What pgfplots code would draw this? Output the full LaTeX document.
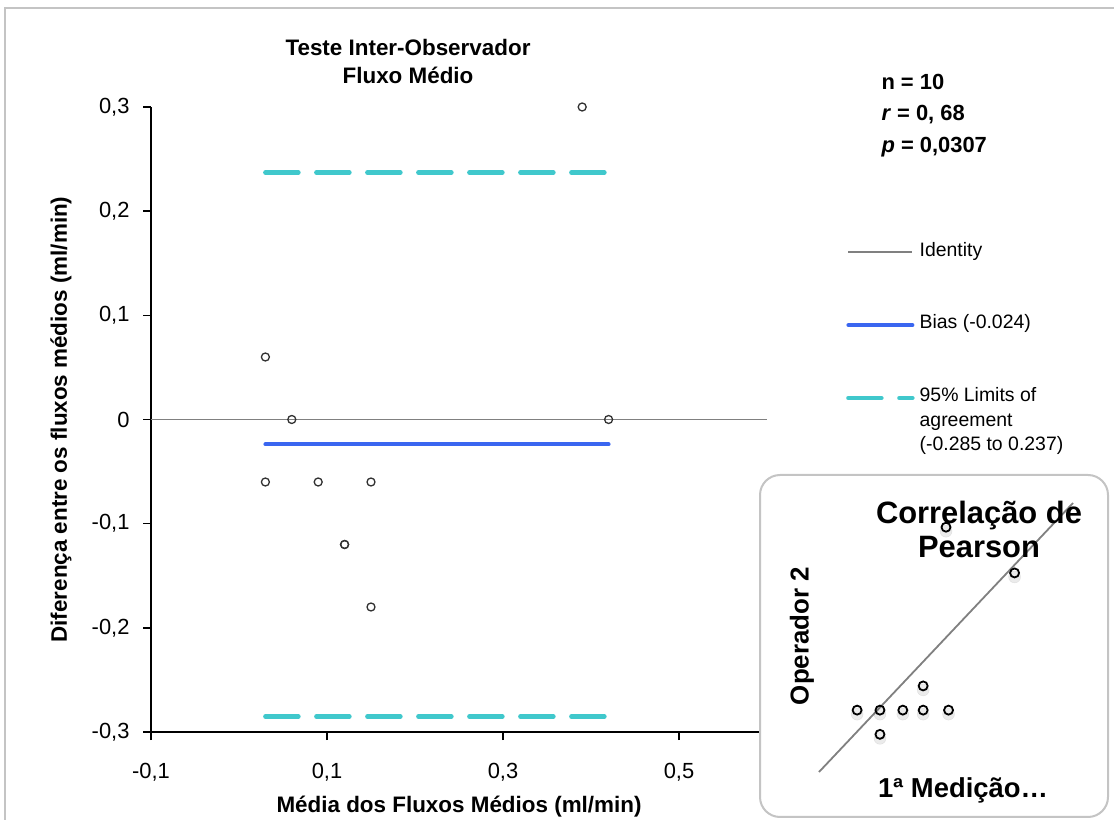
\documentclass[border=0pt]{standalone}
\usepackage{fontspec}
\setmainfont{Liberation Sans}
\usepackage{pgfplots}
\usepackage{pgfplotstable}
\pgfplotsset{compat=1.18}

\definecolor{limcyan}{RGB}{64,200,204}
\definecolor{biasblue}{RGB}{58,102,240}
\definecolor{idgray}{RGB}{128,128,128}
\definecolor{framegray}{RGB}{196,196,196}
\definecolor{ptgray}{RGB}{50,50,50}

% Bland-Altman: media vs diferenca
\pgfplotstableread{
x y
0.03 0.06
0.06 0
0.03 -0.06
0.09 -0.06
0.15 -0.06
0.12 -0.12
0.12 -0.12
0.15 -0.18
0.39 0.30
0.42 0
}\blandaltman

% inset: operador 2 vs 1a medicao
\pgfplotstableread{
x y
0.075 0.115
0.120 0.115
0.165 0.115
0.205 0.115
0.255 0.115
0.205 0.160
0.120 0.070
0.250 0.455
0.385 0.370
}\pearson

\begin{document}
\begin{tikzpicture}
\useasboundingbox (0,0) rectangle (1114bp,820bp);
\draw[framegray, line width=2.5bp] (5bp,0) -- (5bp,812bp) -- (1114bp,812bp);

\node[anchor=base, font=\bfseries\fontsize{22.5}{28}\selectfont] at (408bp,764bp) {Teste Inter-Observador};
\node[anchor=base, font=\bfseries\fontsize{22.5}{28}\selectfont] at (408bp,736bp) {Fluxo Médio};

\begin{axis}[
  at={(151bp,88bp)}, anchor=south west,
  width=616bp, height=625bp, scale only axis,
  xmin=-0.1, xmax=0.6, ymin=-0.3, ymax=0.3,
  xtick={-0.1,0.1,0.3,0.5},
  ytick={-0.3,-0.2,-0.1,0,0.1,0.2,0.3},
  axis x line*=bottom, axis y line*=left,
  axis line style={black, line width=1.6bp},
  tick style={black, line width=1.6bp},
  tick align=outside, major tick length=8bp,
  /pgf/number format/.cd, use comma, fixed, precision=1, assume math mode=true,
  /pgfplots/.cd,
  tick label style={font=\fontsize{22}{26}\selectfont},
  xticklabel style={yshift=-20bp},
  yticklabel style={xshift=-10bp},
  xlabel={Média dos Fluxos Médios (ml/min)},
  ylabel={Diferença entre os fluxos médios (ml/min)},
  x label style={at={(axis description cs:0.5,-0.12)}, anchor=center, font=\bfseries\fontsize{22.5}{27}\selectfont},
  y label style={at={(axis description cs:-0.146,0.5)}, anchor=center, font=\bfseries\fontsize{22.5}{27}\selectfont},
  clip=false,
  legend style={at={(axis description cs:1.1282,0.7874)}, anchor=north west,
    draw=none, fill=none, inner sep=0pt, row sep=0pt, column sep=5bp,
    nodes={inner sep=0pt, text height=16bp, text depth=8.3bp, font=\fontsize{19.5}{24}\selectfont}},
  legend cell align=left,
  legend image code/.code={\draw[#1] (0bp,0bp) -- (64bp,0bp);},
]
\addplot[idgray, line width=1.8bp, forget plot] coordinates {(-0.1,0) (0.6,0)};
\addplot[biasblue, line width=4bp, line cap=round, forget plot] coordinates {(0.03,-0.024) (0.42,-0.024)};
\addplot[limcyan, line width=4.5bp, line cap=round, dash pattern=on 33bp off 18bp, forget plot] coordinates {(0.03,0.237) (0.42,0.237)};
\addplot[limcyan, line width=4.5bp, line cap=round, dash pattern=on 33bp off 18bp, forget plot] coordinates {(0.03,-0.285) (0.42,-0.285)};
\addplot[only marks, mark=o, mark size=4bp, ptgray, line width=1.3bp, forget plot] table {\blandaltman};

\addlegendimage{idgray, line width=1.8bp}
\addlegendentry{Identity}
\addlegendimage{empty legend}\addlegendentry{}
\addlegendimage{empty legend}\addlegendentry{}
\addlegendimage{biasblue, line width=4bp, line cap=round}
\addlegendentry{Bias (-0.024)}
\addlegendimage{empty legend}\addlegendentry{}
\addlegendimage{empty legend}\addlegendentry{}
\addlegendimage{limcyan, line width=4.5bp, line cap=round, dash pattern=on 33bp off 18bp}
\addlegendentry{95\% Limits of}
\addlegendimage{empty legend}\addlegendentry{agreement}
\addlegendimage{empty legend}\addlegendentry{(-0.285 to 0.237)}
\end{axis}

\node[anchor=base west, font=\bfseries\fontsize{22}{26}\selectfont] at (878bp,730bp) {n = 10};
\node[anchor=base west, font=\bfseries\fontsize{22}{26}\selectfont] at (878bp,699bp) {\textit{r} = 0, 68};
\node[anchor=base west, font=\bfseries\fontsize{22}{26}\selectfont] at (878bp,667bp) {\textit{p} = 0,0307};

% inset
\draw[framegray, line width=2bp, rounded corners=20bp, fill=white] (760bp,3bp) rectangle (1108bp,345bp);
\begin{axis}[
  at={(819bp,48bp)}, anchor=south west,
  width=254bp, height=269bp, scale only axis,
  xmin=0, xmax=0.5, ymin=0, ymax=0.5,
  hide axis, clip=false,
]
\addplot[idgray, line width=1.8bp] coordinates {(0,0) (0.5,0.5)};
\addplot[only marks, mark=*, mark size=6bp, black, opacity=0.08, draw=none, mark options={yshift=-4bp}] table {\pearson};
\addplot[only marks, mark=o, mark size=4.5bp, line width=1.8bp, black, mark options={fill=white}] table {\pearson};
\end{axis}
\node[align=center, font=\bfseries\fontsize{31}{35}\selectfont] at (979bp,290.5bp) {Correlação de\\Pearson};
\node[rotate=90, font=\bfseries\fontsize{26}{30}\selectfont] at (802bp,184bp) {Operador 2};
\node[font=\bfseries\fontsize{27.5}{32}\selectfont] at (963bp,30bp) {1ª Medição…};
\end{tikzpicture}
\end{document}
